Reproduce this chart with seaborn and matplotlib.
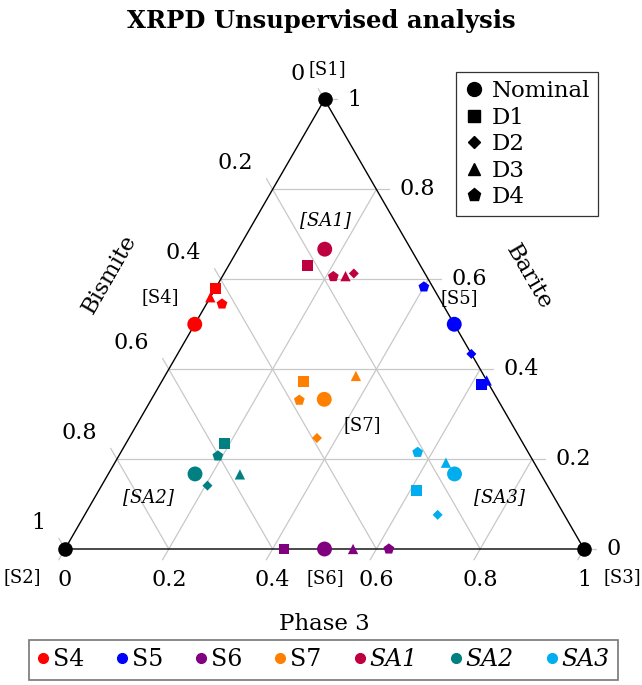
import numpy as np
import pandas as pd
import matplotlib
matplotlib.use("Agg")
import matplotlib.pyplot as plt
import seaborn as sns
from matplotlib.lines import Line2D

H = np.sqrt(3) / 2

samples = ["S4", "S5", "S6", "S7", "SA1", "SA2", "SA3"]
conditions = ["Nominal", "D1", "D2", "D3", "D4"]
sample_colors = ["#ff0000", "#0000ff", "#800080", "#ff8000",
                 "#bf0040", "#008080", "#00aeef"]

# points (barite, phase 3 fractions; bismite = rest)
pt_sample = (["S4"] * 4 + ["S5"] * 5 + ["S6"] * 4 + ["S7"] * 5
             + ["SA1"] * 5 + ["SA2"] * 5 + ["SA3"] * 5)
pt_cond = (["Nominal", "D1", "D3", "D4"]
           + ["Nominal", "D1", "D2", "D3", "D4"]
           + ["Nominal", "D1", "D3", "D4"]
           + ["Nominal", "D1", "D2", "D3", "D4"] * 3
           + ["Nominal", "D1", "D2", "D3", "D4"])
pt_barite = ([0.50, 0.58, 0.56, 0.545]
             + [0.50, 0.365, 0.434, 0.375, 0.583]
             + [0.0, 0.0, 0.0, 0.0]
             + [0.333, 0.372, 0.247, 0.385, 0.331]
             + [0.667, 0.630, 0.613, 0.607, 0.606]
             + [0.167, 0.234, 0.141, 0.166, 0.207]
             + [0.167, 0.131, 0.076, 0.192, 0.215])
pt_phase3 = ([0.0, 0.0, 0.0, 0.03]
             + [0.50, 0.62, 0.566, 0.625, 0.40]
             + [0.50, 0.422, 0.555, 0.624]
             + [0.333, 0.273, 0.362, 0.368, 0.286]
             + [0.167, 0.153, 0.250, 0.237, 0.214]
             + [0.167, 0.190, 0.204, 0.254, 0.191]
             + [0.667, 0.611, 0.680, 0.638, 0.572])

ticks = [0, 0.2, 0.4, 0.6, 0.8, 1]
tick_labels = ["0", "0.2", "0.4", "0.6", "0.8", "1"]

df = pd.DataFrame({"sample": pt_sample, "condition": pt_cond,
                   "barite": pt_barite, "phase3": pt_phase3})
df["x"] = df["phase3"] + df["barite"] / 2
df["y"] = df["barite"] * H

sns.set_style("white")
plt.rcParams["font.family"] = ["DejaVu Serif"]
plt.rcParams["text.color"] = "black"

fig = plt.figure(figsize=(6.42, 6.85), dpi=100)
ax = fig.add_axes([65 / 642, 136 / 685, 519 / 642, 449.5 / 685])
ax.set_xlim(0, 1)
ax.set_ylim(0, H)
ax.axis("off")

grid_kw = dict(color="#c8c8c8", lw=0.9, zorder=1, clip_on=False)
L = 0.024
for t in ticks:
    # barite = t (horizontal), tick to the right
    x0, x1 = t / 2, 1 - t / 2
    if 0 < t < 1:
        ax.plot([x0, x1], [t * H, t * H], **grid_kw)
    ax.plot([x1, x1 + L], [t * H, t * H], **grid_kw)
    # phase 3 = t, tick down-left
    if 0 < t < 1:
        ax.plot([t, t + (1 - t) / 2], [0, (1 - t) * H], **grid_kw)
    ax.plot([t, t - L * 0.5], [0, -L * H], **grid_kw)
    # bismite = t, tick up-left
    lx, ly = (1 - t) / 2, (1 - t) * H
    if 0 < t < 1:
        ax.plot([lx, 1 - t], [ly, 0], **grid_kw)
    ax.plot([lx, lx - L * 0.5], [ly, ly + L * H], **grid_kw)

ax.plot([0, 1, 0.5, 0], [0, 0, H, 0], color="black", lw=1.0, zorder=2,
        clip_on=False)

px = 0.72
tick_fs = 16
for t, lab in zip(ticks, tick_labels):
    ax.annotate(lab, (t, 0), xytext=(0, -31 * px), textcoords="offset points",
                ha="center", va="center", fontsize=tick_fs)
    ax.annotate(lab, ((1 - t) / 2, (1 - t) * H), xytext=(-20 * px, 26 * px),
                textcoords="offset points", ha="right", va="center",
                fontsize=tick_fs)
    ax.annotate(lab, (1 - t / 2, t * H), xytext=(23 * px, 0),
                textcoords="offset points", ha="left", va="center",
                fontsize=tick_fs)

ax.annotate("Phase 3", (0.5, 0), xytext=(0, -75 * px),
            textcoords="offset points", ha="center", va="center", fontsize=16.5)
ax.annotate("Bismite", (0.25, H / 2), xytext=(-85 * px, 50 * px),
            textcoords="offset points", ha="center", va="center",
            rotation=60, fontsize=16.5)
ax.annotate("Barite", (0.75, H / 2), xytext=(75 * px, 47 * px),
            textcoords="offset points", ha="center", va="center",
            rotation=-60, fontsize=16.5)

# vertices
ax.scatter([0.5, 0, 1], [H, 0, 0], s=110, color="black", zorder=4,
           clip_on=False, linewidths=0)

marker_map = {"Nominal": "o", "D1": "s", "D2": "D", "D3": "^", "D4": "p"}
size_map = {"Nominal": 115, "D1": 62, "D2": 26, "D3": 55, "D4": 66}
palette = dict(zip(samples, sample_colors))
sns.scatterplot(data=df, x="x", y="y", hue="sample", style="condition",
                size="condition", markers=marker_map, sizes=size_map,
                palette=palette, linewidth=0, legend=False, ax=ax,
                zorder=5, clip_on=False)
ax.set_xlim(0, 1)
ax.set_ylim(0, H)
ax.axis("off")

region_labels = ["[S1]", "[S2]", "[S3]", "[S4]", "[S5]", "[S6]", "[S7]",
                 "[SA1]", "[SA2]", "[SA3]"]
region_pos = [(0.505, 0.925), (-0.083, -0.054), (1.073, -0.054),
              (0.183, 0.486), (0.759, 0.484), (0.501, -0.056),
              (0.572, 0.239), (0.501, 0.634), (0.160, 0.100), (0.838, 0.100)]
for lab, (lx, ly) in zip(region_labels, region_pos):
    ax.text(lx, ly, lab, ha="center", va="center", fontsize=13,
            style="italic" if lab.startswith("[SA") else "normal")

fig.suptitle("XRPD Unsupervised analysis", y=1 - 21 / 685, va="center",
             fontsize=17.5, fontweight="bold")

shape_handles = [Line2D([], [], ls="", marker=marker_map[c], color="black",
                        markersize={"Nominal": 10, "D1": 8.5, "D2": 6,
                                    "D3": 9, "D4": 9.5}[c])
                 for c in conditions]
leg1 = fig.legend(shape_handles, conditions, loc="upper left",
                  bbox_to_anchor=(456 / 642, 1 - 72 / 685), frameon=True,
                  fancybox=False, edgecolor="black", fontsize=16.5,
                  handlelength=0.9, handletextpad=0.3, labelspacing=0.2,
                  borderpad=0.35, borderaxespad=0)
leg1.get_frame().set_linewidth(0.9)

color_handles = [Line2D([], [], ls="", marker="o", color=c, markersize=7)
                 for c in sample_colors]
leg2 = fig.legend(color_handles, samples, loc="upper left",
                  bbox_to_anchor=(29 / 642, 45 / 685), ncol=7, frameon=True,
                  fancybox=False, edgecolor="#555555", fontsize=17,
                  handlelength=0.45, handletextpad=0.2, columnspacing=1.38,
                  borderpad=0.35, borderaxespad=0)
leg2.get_frame().set_linewidth(1.2)
for txt in leg2.get_texts():
    if txt.get_text().startswith("SA"):
        txt.set_style("italic")

fig.savefig("out.png", dpi=100)
